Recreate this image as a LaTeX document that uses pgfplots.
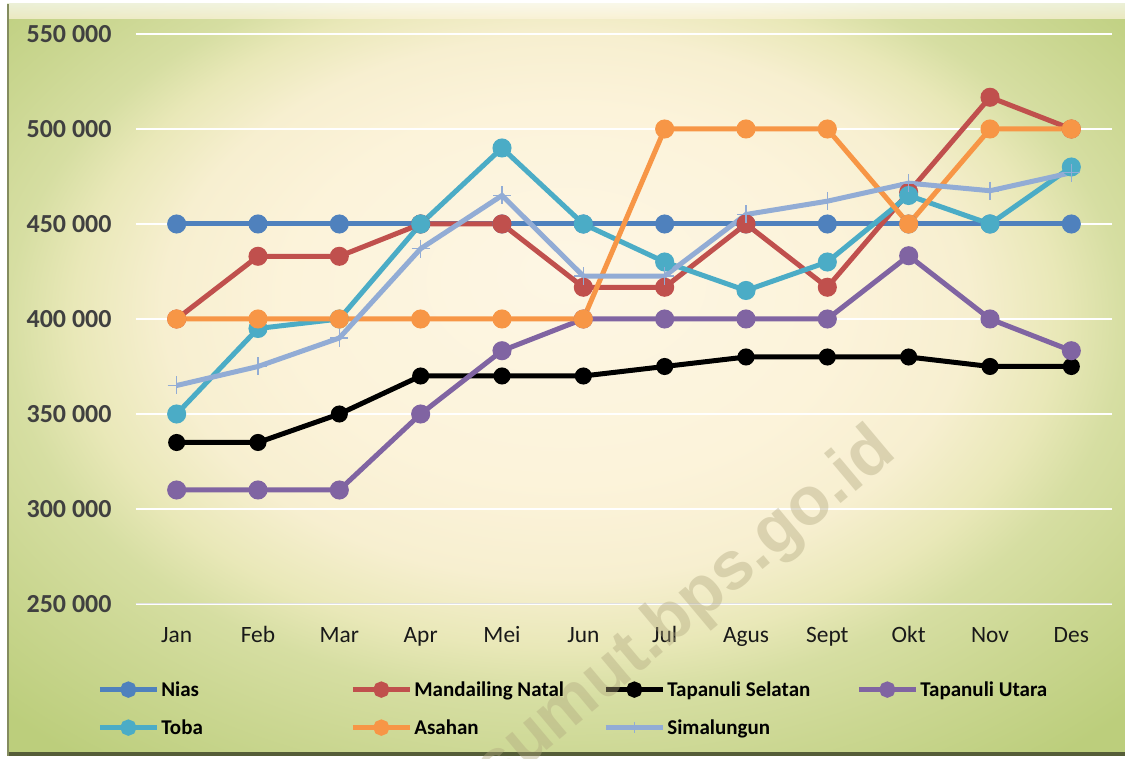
\documentclass[border=0pt]{standalone}
\usepackage{fontspec}
\setmainfont{Carlito}
\newfontfamily\wmfont{Liberation Sans}
\usepackage{pgfplots}
\pgfplotsset{compat=1.18}
\definecolor{cNias}{HTML}{4F81BD}
\definecolor{cMand}{HTML}{C0504D}
\definecolor{cTaput}{HTML}{8064A2}
\definecolor{cToba}{HTML}{4BACC6}
\definecolor{cAsahan}{HTML}{F79646}
\definecolor{cSima}{HTML}{92ACD5}
\definecolor{bg0}{HTML}{FDF6E4}
\definecolor{bg1}{HTML}{FCF3DA}
\definecolor{bg2}{HTML}{F7EFD0}
\definecolor{bg3}{HTML}{E9E8B8}
\definecolor{bg4}{HTML}{D6DEA2}
\definecolor{bg5}{HTML}{CBD792}
\definecolor{bg6}{HTML}{BCCE7C}
\definecolor{wm}{RGB}{176,167,126}
\definecolor{ylab}{HTML}{404040}
\pgfdeclareradialshading{bgshade}{\pgfpoint{0bp}{7.5bp}}{color(0bp)=(bg0); color(12.5bp)=(bg1); color(18bp)=(bg2); color(22bp)=(bg3); color(25bp)=(bg4); color(29bp)=(bg5); color(35bp)=(bg6); color(50bp)=(bg6)}
\newcommand{\legent}[1]{\makebox[92.5pt][l]{\rule[-2.5pt]{0pt}{10.5pt}#1}}
\begin{document}
\begin{tikzpicture}
\useasboundingbox (0,0) rectangle (562.5pt,379.5pt);
\fill[white] (0,0) rectangle (562.5pt,379.5pt);
\shade[shading=bgshade] (3.5pt,1.5pt) rectangle (562.5pt,377.5pt);
% bevel
\shade[top color=white!80!bg0, bottom color=bg1, opacity=0.7] (3.5pt,370pt) rectangle (562.5pt,377.5pt);
\fill[black!55!bg6] (3.5pt,1.5pt) rectangle (562.5pt,3.5pt);
\draw[black!35!bg5, line width=0.8pt] (3.9pt,1.5pt) -- (3.9pt,377.5pt);
\begin{axis}[
  at={(68pt,77.5pt)}, anchor=south west,
  scale only axis, width=488pt, height=285pt,
  xmin=-0.5, xmax=11.5, ymin=250000, ymax=550000,
  scaled y ticks=false,
  xtick={0,...,11},
  xticklabels={Jan,Feb,Mar,Apr,Mei,Jun,Jul,Agus,Sept,Okt,Nov,Des},
  ytick={250000,300000,350000,400000,450000,500000,550000},
  yticklabels={250 000,300 000,350 000,400 000,450 000,500 000,550 000},
  axis line style={draw=none},
  major tick length=0pt,
  ymajorgrids, grid style={white, line width=1pt},
  yticklabel style={font=\fontsize{13}{15}\selectfont\bfseries, text=ylab, anchor=east, xshift=-8.7pt},
  xticklabel style={font=\fontsize{11.7}{14}\selectfont, text=black!90, anchor=base, yshift=-19.5pt},
  every axis plot/.append style={line width=2.5pt, mark size=3.5pt},
  legend columns=4,
  legend style={at={(-0.0400,-0.1293)}, anchor=north west, draw=none, fill=none, inner sep=0pt,
    font=\fontsize{10.5}{12.6}\selectfont\bfseries,
    nodes={inner sep=1pt, anchor=west},
    /tikz/every even column/.append style={column sep=1pt},
    row sep=7.5pt},
  legend image code/.code={\draw[mark repeat=2, mark phase=2, #1, line width=2.5pt, mark size=2.8pt] plot coordinates {(0pt,0pt)(14.25pt,0pt)(28.5pt,0pt)};},
]
\draw[black!12, line width=1pt] (axis cs:-0.5,250000) -- (axis cs:11.5,250000);
\addplot[cNias, mark=*, mark options={fill=cNias, draw=cNias}] coordinates {
(0,450000)(1,450000)(2,450000)(3,450000)(4,450000)(5,450000)(6,450000)(7,450000)(8,450000)(9,450000)(10,450000)(11,450000)};
\addlegendentry{\legent{Nias}}
\addplot[cMand, mark=*, mark options={fill=cMand, draw=cMand}] coordinates {
(0,400000)(1,433000)(2,433000)(3,450000)(4,450000)(5,416700)(6,416700)(7,450000)(8,416700)(9,466700)(10,516700)(11,500000)};
\addlegendentry{\legent{Mandailing Natal}}
\addplot[black, mark=*, mark size=3pt, mark options={fill=black, draw=black}] coordinates {
(0,335000)(1,335000)(2,350000)(3,370000)(4,370000)(5,370000)(6,375000)(7,380000)(8,380000)(9,380000)(10,375000)(11,375000)};
\addlegendentry{\legent{Tapanuli Selatan}}
\addplot[cTaput, mark=*, mark options={fill=cTaput, draw=cTaput}] coordinates {
(0,310000)(1,310000)(2,310000)(3,350000)(4,383300)(5,400000)(6,400000)(7,400000)(8,400000)(9,433300)(10,400000)(11,383300)};
\addlegendentry{\legent{Tapanuli Utara}}
\addplot[cToba, mark=*, mark options={fill=cToba, draw=cToba}] coordinates {
(0,350000)(1,395000)(2,400000)(3,450000)(4,490000)(5,450000)(6,430000)(7,415000)(8,430000)(9,465000)(10,450000)(11,480000)};
\addlegendentry{\legent{Toba}}
\addplot[cAsahan, mark=*, mark options={fill=cAsahan, draw=cAsahan}] coordinates {
(0,400000)(1,400000)(2,400000)(3,400000)(4,400000)(5,400000)(6,500000)(7,500000)(8,500000)(9,450000)(10,500000)(11,500000)};
\addlegendentry{\legent{Asahan}}
\addplot[cSima, mark=+, mark size=4.5pt, mark options={line width=0.8pt}] coordinates {
(0,365000)(1,375000)(2,390000)(3,437000)(4,465000)(5,422600)(6,422600)(7,455000)(8,462000)(9,471500)(10,467500)(11,477000)};
\addlegendentry{\legent{Simalungun}}
\end{axis}
\node[rotate=40, text=wm, opacity=0.4, font=\wmfont\fontsize{34}{40}\selectfont\bfseries] at (343pt,74pt) {sumut.bps.go.id};
\end{tikzpicture}
\end{document}
